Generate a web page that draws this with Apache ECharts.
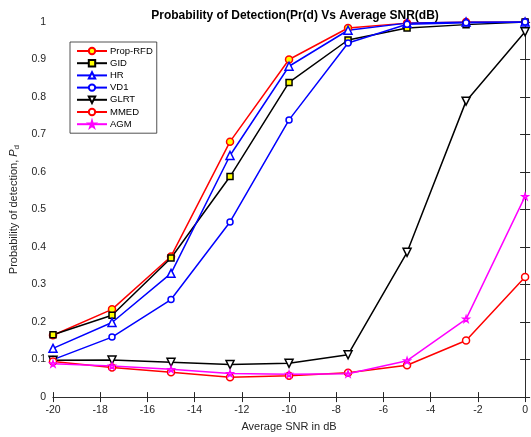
<!DOCTYPE html>
<html><head><meta charset="utf-8">
<script src="https://cdn.jsdelivr.net/npm/echarts@6/dist/echarts.min.js"></script>
<style>html,body{margin:0;padding:0;background:#fff}#c{width:531px;height:437px}</style>
</head><body><div id="c"></div>
<script>
const snr = [-20, -17.5, -15, -12.5, -10, -7.5, -5, -2.5, 0];
const propRFD = [0.165, 0.234, 0.375, 0.681, 0.900, 0.984, 0.997, 1.0, 1.0];
const gid     = [0.166, 0.218, 0.371, 0.588, 0.839, 0.952, 0.984, 0.993, 1.0];
const hr      = [0.130, 0.199, 0.330, 0.644, 0.882, 0.978, 0.997, 1.0, 1.0];
const vd1     = [0.100, 0.160, 0.260, 0.467, 0.739, 0.944, 0.994, 0.998, 1.0];
const glrt    = [0.098, 0.099, 0.093, 0.087, 0.090, 0.113, 0.386, 0.789, 0.974];
const mmed    = [0.095, 0.079, 0.066, 0.053, 0.057, 0.065, 0.085, 0.151, 0.320];
const agm     = [0.089, 0.083, 0.074, 0.063, 0.061, 0.062, 0.097, 0.208, 0.535];
const xTicks = {min: -20, max: 0, step: 2};
const yTicks = {min: 0, max: 1, step: 0.1};

const star = 'path://M50,0 L61.8,36.2 L100,36.2 L69.1,58.6 L80.9,95.1 L50,72.7 L19.1,95.1 L30.9,58.6 L0,36.2 L38.2,36.2 Z';
const pair = a => snr.map((x, i) => [x, a[i]]);
function mk(name, data, color, symbol, size, fill, rot) {
  return {
    name, type: 'line', data: pair(data), symbol, symbolSize: size, symbolRotate: rot || 0,
    lineStyle: {color, width: 1.5}, itemStyle: {color: fill, borderColor: color, borderWidth: 1.5},
    showAllSymbol: true, z: 3
  };
}
const axisCol = '#262626';
const font = 'Liberation Sans, Arial, sans-serif';
const chart = echarts.init(document.getElementById('c'), null, {renderer: 'canvas'});
chart.setOption({
  animation: false,
  title: {text: 'Probability of Detection(Pr(d) Vs Average SNR(dB)', left: 290, textAlign: 'center', top: 5,
    textStyle: {fontSize: 12, fontWeight: 'bold', color: '#000', fontFamily: font}},
  grid: {left: 52, right: 3, top: 22, bottom: 31},
  legend: {
    orient: 'vertical', left: 70, top: 42, itemWidth: 30, itemHeight: 8, itemGap: 0.2,
    backgroundColor: '#fff', borderColor: axisCol, borderWidth: 0.8, padding: [3, 4, 3, 6],
    textStyle: {fontSize: 9.5, lineHeight: 12, color: '#000', fontFamily: font, padding: [0, 0, 0, -2]},
    data: ['Prop-RFD', 'GID', 'HR', 'VD1', 'GLRT', 'MMED', 'AGM']
  },
  xAxis: [{
    type: 'value', min: xTicks.min, max: xTicks.max, interval: xTicks.step,
    name: 'Average SNR in dB', nameLocation: 'middle', nameGap: 22,
    nameTextStyle: {fontSize: 11, color: axisCol, fontFamily: font},
    axisLine: {lineStyle: {color: axisCol, width: 0.8}},
    axisTick: {inside: true, length: 5, lineStyle: {color: axisCol}},
    axisLabel: {fontSize: 10.5, color: axisCol, fontFamily: font, margin: 8},
    splitLine: {show: false}
  }, {
    type: 'value', position: 'top', min: xTicks.min, max: xTicks.max, interval: xTicks.step,
    axisLine: {show: true, lineStyle: {color: axisCol, width: 0.8}},
    axisTick: {inside: true, length: 5, lineStyle: {color: axisCol}},
    axisLabel: {show: false}, splitLine: {show: false}
  }],
  yAxis: [{
    type: 'value', min: yTicks.min, max: yTicks.max, interval: yTicks.step,
    name: 'Probability of detection, {i|P}{s|d}', nameLocation: 'middle', nameGap: 31,
    nameTextStyle: {fontSize: 11, color: axisCol, fontFamily: font,
      rich: {i: {fontSize: 11, fontStyle: 'italic', color: axisCol, fontFamily: font},
             s: {fontSize: 8, color: axisCol, fontFamily: font, verticalAlign: 'bottom', padding: [6, 0, 0, 0]}}},
    axisLine: {show: true, lineStyle: {color: axisCol, width: 0.8}},
    axisTick: {inside: true, length: 5, lineStyle: {color: axisCol}},
    axisLabel: {fontSize: 10.5, color: axisCol, fontFamily: font, margin: 7,
      formatter: v => String(Math.round(v * 10) / 10)},
    splitLine: {show: false}
  }, {
    type: 'value', position: 'right', min: yTicks.min, max: yTicks.max, interval: yTicks.step,
    axisLine: {show: true, lineStyle: {color: axisCol, width: 0.8}},
    axisTick: {inside: true, length: 5, lineStyle: {color: axisCol}},
    axisLabel: {show: false}, splitLine: {show: false}
  }],
  series: [
    mk('Prop-RFD', propRFD, '#ff0000', 'circle', 7, '#ffff00'),
    mk('GID', gid, '#000000', 'rect', 6, '#ffff00'),
    mk('HR', hr, '#0000ff', 'triangle', 8, '#ffffff'),
    mk('VD1', vd1, '#0000ff', 'circle', 6, '#ffffff'),
    mk('GLRT', glrt, '#000000', 'triangle', 8, '#ffffff', 180),
    mk('MMED', mmed, '#ff0000', 'circle', 7, '#ffffff'),
    mk('AGM', agm, '#ff00ff', star, 6, '#ffffff')
  ]
});
</script></body></html>
